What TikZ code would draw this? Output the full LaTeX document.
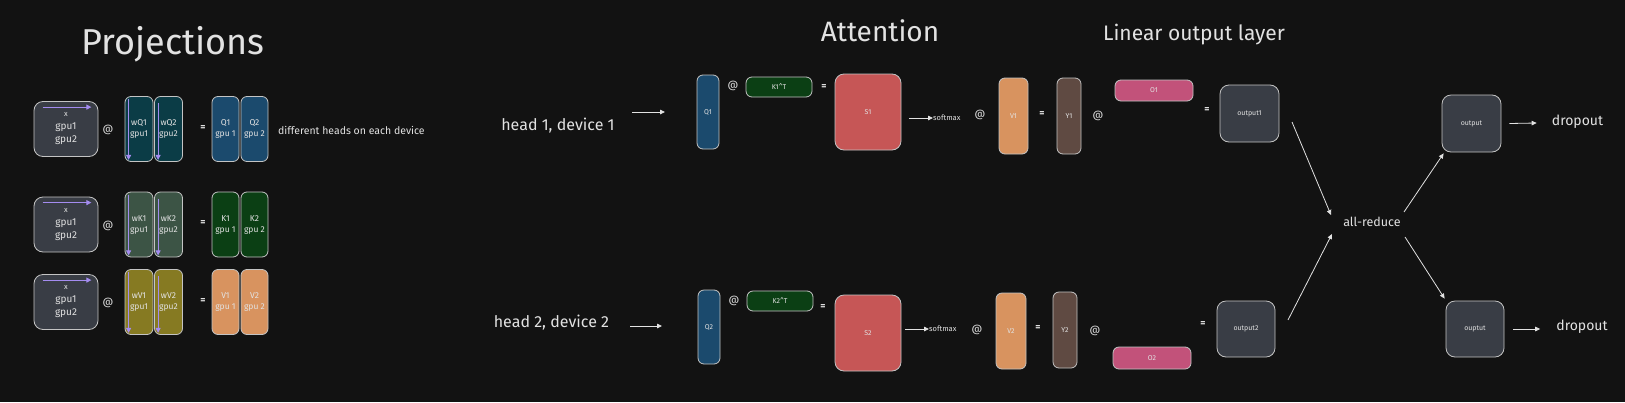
\documentclass[tikz,border=0pt]{standalone}
\usepackage{fontspec}
\setmainfont{Fira Sans}
\usetikzlibrary{arrows.meta,calc}
\definecolor{bgdark}{HTML}{121212}
\definecolor{edgegray}{HTML}{C4C4C4}
\definecolor{txt}{HTML}{E2E2E2}
\definecolor{xfill}{HTML}{393D45}
\definecolor{wqfill}{HTML}{0B3C46}
\definecolor{qfill}{HTML}{1B4A6D}
\definecolor{wkfill}{HTML}{3C5445}
\definecolor{kfill}{HTML}{0B3F14}
\definecolor{wvfill}{HTML}{867A22}
\definecolor{vfill}{HTML}{D8935F}
\definecolor{sfill}{HTML}{C65656}
\definecolor{yfill}{HTML}{5F4A42}
\definecolor{ofill}{HTML}{C2527A}
\definecolor{purp}{HTML}{A48CF0}
\begin{document}
\begin{tikzpicture}[x=1pt,y=-1pt,
    mat/.style={draw=edgegray, line width=0.8pt, rounded corners=6pt, text=txt,
      font=\fontsize{7}{8}\selectfont, inner sep=0pt, align=center},
    bigmat/.style={mat, rounded corners=9pt},
    lbl/.style={text=txt, inner sep=0pt},
    op/.style={lbl, font=\fontsize{10.5}{10.5}\selectfont},
    eqs/.style={lbl, font=\fontsize{10}{10}\selectfont\bfseries},
    arr/.style={draw=txt, line width=0.8pt, -{Triangle[length=5pt,width=4.5pt]}},
    parr/.style={draw=purp, line width=0.9pt, -{Triangle[length=5pt,width=5pt]}}]
  \fill[bgdark] (0,0) rectangle (1625,402);
  \useasboundingbox (0,0) rectangle (1625,402);

  % projections
  \node[lbl, font=\fontsize{36}{36}\selectfont] (tproj) at (173,44) {Projections};
  \foreach \row/\yc/\wcol/\rcol/\L in {q/129/wqfill/qfill/Q, k/224.5/wkfill/kfill/K, v/302/wvfill/vfill/V} {
    \node[bigmat, fill=xfill, minimum width=64, minimum height=55,
      font=\fontsize{10}{13}\selectfont] (x\row) at (66,\yc) {{\fontsize{7.5}{7.5}\selectfont x}\\gpu1\\gpu2};
    \node[op] (at\row) at (108,\yc+1) {@};
    \node[mat, fill=\wcol, minimum width=28, minimum height=65,
      font=\fontsize{8.5}{11}\selectfont] (w\row1) at (139,\yc) {w\L1\\gpu1};
    \node[mat, fill=\wcol, minimum width=28, minimum height=65,
      font=\fontsize{8.5}{11}\selectfont] (w\row2) at (168.5,\yc) {w\L2\\gpu2};
    \node[eqs] (eq\row) at (203,\yc-1) {=};
    \node[mat, fill=\rcol, minimum width=27, minimum height=65,
      font=\fontsize{8.5}{11}\selectfont] (\row1) at (225.5,\yc) {\L1\\gpu 1};
    \node[mat, fill=\rcol, minimum width=27, minimum height=65,
      font=\fontsize{8.5}{11}\selectfont] (\row2) at (254.5,\yc) {\L2\\gpu 2};
    \draw[parr] ($(x\row.north west)+(9,6)$) -- ($(x\row.north east)+(-7,6)$);
    \draw[parr] ($(w\row1.north west)+(4,3)$) -- ($(w\row1.south west)+(4,-2)$);
    \draw[parr] ($(w\row2.north west)+(4,7)$) -- ($(w\row2.south west)+(4,-2)$);
  }
  \node[lbl, anchor=west, font=\fontsize{10.5}{10.5}\selectfont] (note) at (278,130) {different heads on each device};

  % attention
  \node[lbl, font=\fontsize{28}{28}\selectfont] (tatt) at (880,31) {Attention};
  \node[lbl, font=\fontsize{21}{21}\selectfont] (tlin) at (1194,35) {Linear output layer};

  % head 1
  \node[lbl, font=\fontsize{16}{16}\selectfont] (h1) at (558,126) {head 1, device 1};
  \coordinate (h1a) at (632,112);
  \coordinate (h1b) at (665,112);
  \draw[arr] (h1a) -- (h1b);
  \node[mat, fill=qfill, minimum width=22, minimum height=74] (aq1) at (708,112) {Q1};
  \node[op] (aat1) at (733,86) {@};
  \node[mat, fill=kfill, minimum width=66, minimum height=20] (kt1) at (779,87) {K1\^{}T};
  \node[eqs] (aeq1) at (824,87) {=};
  \node[bigmat, fill=sfill, minimum width=66, minimum height=76] (s1) at (868,112) {S1};
  \node[lbl, anchor=west, font=\fontsize{7.5}{7.5}\selectfont] (sm1) at (933,118) {softmax};
  \draw[arr] ($(s1.east)+(8,6)$) -- (sm1.west);
  \node[op] (bat1) at (980,115) {@};
  \node[mat, fill=vfill, minimum width=29, minimum height=76] (av1) at (1013.5,116) {V1};
  \node[eqs] (beq1) at (1042,114) {=};
  \node[mat, fill=yfill, minimum width=24, minimum height=76] (y1) at (1069,116) {Y1};
  \node[op] (cat1) at (1098,116) {@};
  \node[mat, fill=ofill, minimum width=78, minimum height=21] (o1) at (1154,90.5) {O1};
  \node[eqs] (ceq1) at (1207,110) {=};
  \node[bigmat, fill=xfill, minimum width=59, minimum height=57] (out1) at (1249.5,113.5) {output1};

  % head 2
  \node[lbl, font=\fontsize{16}{16}\selectfont] (h2) at (551.5,323) {head 2, device 2};
  \coordinate (h2a) at (630,326);
  \coordinate (h2b) at (662,326);
  \draw[arr] (h2a) -- (h2b);
  \node[mat, fill=qfill, minimum width=22, minimum height=74] (aq2) at (709,327) {Q2};
  \node[op] (aat2) at (734,301) {@};
  \node[mat, fill=kfill, minimum width=66, minimum height=20] (kt2) at (780,301) {K2\^{}T};
  \node[eqs] (aeq2) at (823,307) {=};
  \node[bigmat, fill=sfill, minimum width=66, minimum height=76] (s2) at (868,333) {S2};
  \node[lbl, anchor=west, font=\fontsize{7.5}{7.5}\selectfont] (sm2) at (929,329) {softmax};
  \draw[arr] ($(s2.east)+(4,-4)$) -- (sm2.west);
  \node[op] (bat2) at (977,330) {@};
  \node[mat, fill=vfill, minimum width=30, minimum height=76] (av2) at (1011,331) {V2};
  \node[eqs] (beq2) at (1038,328) {=};
  \node[mat, fill=yfill, minimum width=24, minimum height=76] (y2) at (1065,330) {Y2};
  \node[op] (cat2) at (1095,331) {@};
  \node[mat, fill=ofill, minimum width=78, minimum height=22] (o2) at (1152,358) {O2};
  \node[eqs] (ceq2) at (1203,324) {=};
  \node[bigmat, fill=xfill, minimum width=58, minimum height=56] (out2) at (1246,329) {output2};

  % all-reduce
  \node[lbl, font=\fontsize{12.5}{12.5}\selectfont] (ar) at (1372,222) {all-reduce};
  \coordinate (r1a) at (1292,122);
  \coordinate (r1b) at (1331,215);
  \coordinate (r2a) at (1288,320);
  \coordinate (r2b) at (1332,234);
  \coordinate (r3a) at (1404,212);
  \coordinate (r4a) at (1405,237);
  \draw[arr] (r1a) -- (r1b);
  \draw[arr] (r2a) -- (r2b);
  \node[bigmat, fill=xfill, minimum width=59, minimum height=57] (outa) at (1471.5,123.5) {output};
  \node[bigmat, fill=xfill, minimum width=58, minimum height=56] (outb) at (1475,329) {ouptut};
  \draw[arr] (r3a) -- ($(outa.south west)+(2,1)$);
  \draw[arr] (r4a) -- ($(outb.north west)+(-1,-2)$);
  \node[lbl, font=\fontsize{14}{14}\selectfont] (dra) at (1577.5,122) {dropout};
  \node[lbl, font=\fontsize{14}{14}\selectfont] (drb) at (1582,327) {dropout};
  \draw[arr] ($(outa.east)+(8,0)$) -- ($(dra.west)+(-15,1)$);
  \draw[arr] ($(outb.east)+(9,0)$) -- ($(drb.west)+(-16,2)$);
\end{tikzpicture}
\end{document}
